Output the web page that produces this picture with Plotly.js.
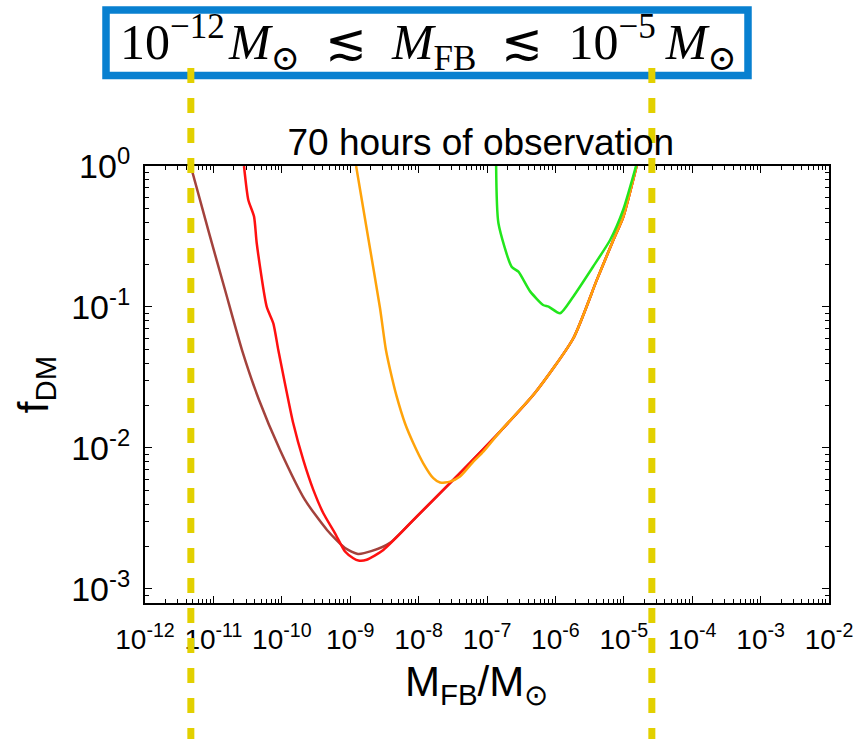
<!DOCTYPE html>
<html>
<head>
<meta charset="utf-8">
<script src="https://cdn.plot.ly/plotly-3.0.1.min.js"></script>
<style>
  html, body { margin: 0; padding: 0; background: #fff; }
  #chart { width: 864px; height: 739px; }
</style>
</head>
<body>
<div id="chart"></div>
<script>
// Fireball mass M_FB / M_sun and the excluded dark-matter fraction f_DM for each curve.
// Lower-left branches differ; above ~1e-8 M_sun the curves share a common rising branch.

const brownMass = [4.66e-12, 8.63e-12, 1.48e-11, 2.62e-11, 4.65e-11, 9.42e-11, 2.18e-10,
                   4.58e-10, 8.40e-10, 1.30e-9, 2.08e-9, 3.82e-9];
const brownFrac = [1.0, 0.335, 0.132, 0.0495, 0.0219, 0.00968, 0.00428,
                   0.00262, 0.00195, 0.00177, 0.00186, 0.00212];

const redMass = [2.80e-11, 3.24e-11, 3.93e-11, 4.30e-11, 6.01e-11, 7.52e-11, 8.89e-11, 1.11e-10,
                 1.47e-10, 2.06e-10, 2.89e-10, 4.05e-10, 6.00e-10, 8.40e-10, 1.11e-9, 1.32e-9,
                 1.74e-9, 3.05e-9];
const redFrac = [1.0, 0.574, 0.4375, 0.283, 0.1005, 0.0766, 0.0495, 0.0288,
                 0.01496, 0.00822, 0.00504, 0.00344, 0.00248, 0.00184, 0.00165, 0.00159,
                 0.00161, 0.00189];

const orangeMass = [1.22e-9, 1.82e-9, 2.73e-9, 3.33e-9, 4.04e-9, 4.79e-9, 6.32e-9, 8.38e-9,
                    1.17e-8, 1.64e-8, 2.06e-8, 2.88e-8, 4.03e-8, 6.31e-8, 8.83e-8];
const orangeFrac = [1.0, 0.316, 0.098, 0.0495, 0.0321, 0.0231, 0.01496, 0.01079,
                    0.00778, 0.0061, 0.00568, 0.00577, 0.00627, 0.0080, 0.00942];

// common rising branch (heavier fireballs)
const tailMass = [9.38e-9, 2.88e-8, 1.55e-7, 5.01e-7, 1.83e-6, 4.02e-6, 7.03e-6, 9.84e-6, 1.54e-5];
const tailFrac = [0.00326, 0.00562, 0.01306, 0.0245, 0.0600, 0.155, 0.2985, 0.4365, 1.0];

const greenMass = [1.36e-7, 1.47e-7, 2.29e-7, 2.88e-7, 4.27e-7, 6.61e-7, 7.94e-7, 1.17e-6,
                   1.82e-6, 3.55e-6, 6.31e-6, 9.77e-6, 1.51e-5];
const greenFrac = [1.0, 0.392, 0.193, 0.178, 0.129, 0.1033, 0.1005, 0.0902,
                   0.1183, 0.193, 0.2985, 0.4875, 1.0];

// mass window marked by the dashed guides
const boundMass = [4.68e-12, 2.57e-5];

const xTickVals = [1e-12, 1e-11, 1e-10, 1e-9, 1e-8, 1e-7, 1e-6, 1e-5, 1e-4, 1e-3, 1e-2];
const xTickText = ['10<sup>-12</sup>', '10<sup>-11</sup>', '10<sup>-10</sup>', '10<sup>-9</sup>',
                   '10<sup>-8</sup>', '10<sup>-7</sup>', '10<sup>-6</sup>', '10<sup>-5</sup>',
                   '10<sup>-4</sup>', '10<sup>-3</sup>', '10<sup>-2</sup>'];
const yTickVals = [1, 0.1, 0.01, 0.001];
const yTickText = ['10<sup>0</sup>', '10<sup>-1</sup>', '10<sup>-2</sup>', '10<sup>-3</sup>'];

function curve(x, y, color) {
  return { x: x, y: y, type: 'scatter', mode: 'lines', hoverinfo: 'skip',
           line: { color: color, width: 2.5, shape: 'spline', smoothing: 0.6 } };
}

const traces = [
  curve(brownMass.concat(tailMass), brownFrac.concat(tailFrac), '#a3423c'),
  curve(redMass.concat(tailMass), redFrac.concat(tailFrac), '#ff1010'),
  curve(orangeMass.concat(tailMass.slice(2)), orangeFrac.concat(tailFrac.slice(2)), '#ffa30a'),
  curve(greenMass, greenFrac, '#22e61c')
];

const axisCommon = {
  type: 'log',
  tickmode: 'array',
  ticks: 'inside', ticklen: 7, tickwidth: 1, tickcolor: '#000',
  showline: true, linecolor: '#000', linewidth: 2, mirror: 'ticks',
  showgrid: false, zeroline: false,
  minor: { ticks: 'inside', ticklen: 4, tickwidth: 1, tickcolor: '#000', showgrid: false, dtick: 'D1' }
};

const pxToPaperY = py => (603 - py) / 437;   // plot area spans 166..603 px vertically
const pxToPaperX = px => (px - 145) / 684;   // and 145..829 px horizontally

const shapes = [
  { type: 'rect', xref: 'paper', yref: 'paper', layer: 'above',
    x0: pxToPaperX(106), x1: pxToPaperX(748), y0: pxToPaperY(75.5), y1: pxToPaperY(10),
    line: { color: '#0880d0', width: 7.5 }, fillcolor: 'rgba(0,0,0,0)' }
].concat(boundMass.map(m => ({
  type: 'line', xref: 'x', yref: 'paper', layer: 'above',
  x0: m, x1: m, y0: pxToPaperY(68), y1: pxToPaperY(745),
  line: { color: '#e2d000', width: 7, dash: '15px,15px' }
})));

const layout = {
  width: 864, height: 739,
  margin: { l: 145, r: 35, t: 166, b: 136 },
  paper_bgcolor: '#fff', plot_bgcolor: '#fff',
  showlegend: false,
  font: { family: 'Liberation Sans, Arial, Helvetica, sans-serif', color: '#000' },
  title: {
    text: '70 hours of observation', font: { size: 37, color: '#000' },
    xref: 'paper', x: 0.491, xanchor: 'center',
    yref: 'container', y: 1 - 142 / 739, yanchor: 'middle'
  },
  xaxis: Object.assign({}, axisCommon, {
    range: [-12, -2], tickvals: xTickVals, ticktext: xTickText,
    tickfont: { size: 28 }, ticklabelstandoff: 10
  }),
  yaxis: Object.assign({}, axisCommon, {
    range: [-3.1, 0], tickvals: yTickVals, ticktext: yTickText,
    tickfont: { size: 34 }, ticklabelstandoff: 6,
    title: { text: 'f<sub>DM</sub>', font: { size: 42 }, standoff: 10 }
  }),
  shapes: shapes,
  annotations: [
    {
      // mass-window caption in the framed box above the plot
      xref: 'paper', yref: 'paper',
      x: pxToPaperX(428), y: pxToPaperY(42), xanchor: 'center', yanchor: 'middle',
      showarrow: false,
      text: '10<sup>−12</sup>\u200a<i>M</i><sub>⊙</sub>\u2002≲\u2002<i>M</i><sub>FB</sub>\u2002≲\u200210<sup>−5</sup>\u2009<i>M</i><sub>⊙</sub>',
      font: { family: 'Liberation Serif, DejaVu Serif, serif', size: 50, color: '#000' }
    },
    {
      // x-axis title
      xref: 'paper', yref: 'paper',
      x: pxToPaperX(476), y: pxToPaperY(684), xanchor: 'center', yanchor: 'middle',
      showarrow: false,
      text: 'M<sub>FB</sub>/M<sub>⊙</sub>',
      font: { size: 42, color: '#000' }
    }
  ]
};

Plotly.newPlot('chart', traces, layout, { displayModeBar: false, staticPlot: true });
</script>
</body>
</html>
